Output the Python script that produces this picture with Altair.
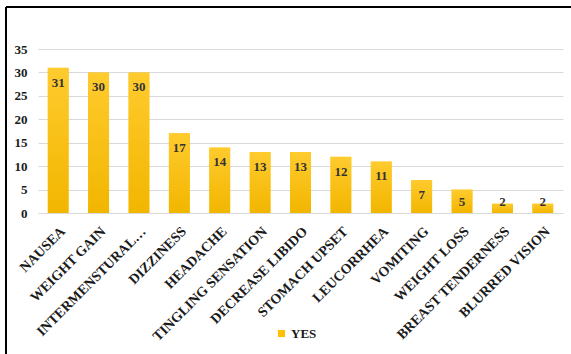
import altair as alt
import pandas as pd

categories = ["NAUSEA", "WEIGHT GAIN", "INTERMENSTURAL…", "DIZZINESS", "HEADACHE",
              "TINGLING SENSATION", "DECREASE LIBIDO", "STOMACH UPSET", "LEUCORRHEA",
              "VOMITING", "WEIGHT LOSS", "BREAST TENDERNESS", "BLURRED VISION"]
values = [31, 30, 30, 17, 14, 13, 13, 12, 11, 7, 5, 2, 2]
series_name = "YES"
y_ticks = [0, 5, 10, 15, 20, 25, 30, 35]

df = pd.DataFrame({"cat": categories, "v": values, "series": [series_name] * len(values)})

FONT = "Liberation Serif, Times New Roman, serif"
TXT = "#1a1a1a"
W, H = 525, 164

x_axis = alt.Axis(labelAngle=-45, labelFont=FONT, labelFontWeight="bold",
                  labelFontSize=14, labelColor=TXT, labelPadding=11,
                  labelOverlap=False, labelLimit=300,
                  ticks=False, domain=False, grid=False)
y_axis = alt.Axis(values=y_ticks, labelFont=FONT, labelFontWeight="bold",
                  labelFontSize=13, labelColor=TXT, labelPadding=11,
                  labelOverlap=False, tickCount=8,
                  ticks=False, domain=False, gridColor="#d9d9d9", gridWidth=1)
x_scale = alt.Scale(paddingInner=0.48, paddingOuter=0.24)
y_scale = alt.Scale(domain=[0, 35], nice=False)

x = alt.X("cat:N", sort=categories, title=None, scale=x_scale, axis=x_axis)
y = alt.Y("v:Q", title=None, scale=y_scale, axis=y_axis)

base = alt.Chart(df)

legend_bars = base.mark_bar().encode(
    x=x, y=y,
    color=alt.Color("series:N", title=None,
                    scale=alt.Scale(range=["#FFC000"]),
                    legend=alt.Legend(orient="none", legendX=237, legendY=278,
                                      symbolType="square", symbolSize=50,
                                      symbolStrokeWidth=0,
                                      labelFont=FONT, labelFontWeight="bold",
                                      labelFontSize=13, labelColor=TXT,
                                      labelOffset=3, padding=0)),
)

grad = alt.Gradient(gradient="linear", x1=0, x2=0, y1=0, y2=1,
                    stops=[alt.GradientStop(color="#FFCB2E", offset=0),
                           alt.GradientStop(color="#F2B600", offset=1)])
grad_bars = base.mark_bar(color=grad, cornerRadiusTopLeft=2, cornerRadiusTopRight=2).encode(
    x=x, y=y)

labels = base.transform_calculate(
    ly="max(datum.v - 3.2, 2.4)"
).mark_text(font=FONT, fontWeight="bold", fontSize=13, color="#333",
            baseline="middle").encode(
    x=x,
    y=alt.Y("ly:Q", title=None, scale=y_scale, axis=y_axis),
    text="v:Q")

border_top = base.mark_rule(color="#000", strokeWidth=2).encode(
    x=alt.value(-32), x2=alt.value(W + 20), y=alt.value(-42))
border_left = base.mark_rule(color="#000", strokeWidth=2).encode(
    x=alt.value(-32), y=alt.value(-42), y2=alt.value(H + 150))

chart = alt.layer(legend_bars, grad_bars, labels, border_top, border_left).properties(
    width=W, height=H,
    autosize=alt.AutoSizeParams(type="none"),
    padding={"left": 38, "top": 49, "right": 8, "bottom": 141},
    background="white",
).configure_view(stroke=None)

chart.save("out.html", embed_options={"renderer": "svg", "actions": False})
